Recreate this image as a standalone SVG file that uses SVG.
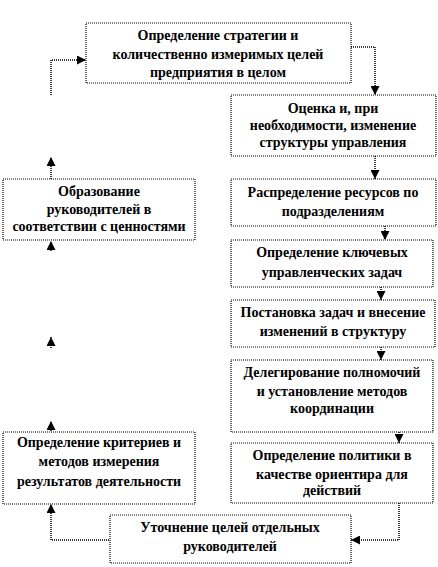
<svg xmlns="http://www.w3.org/2000/svg" width="438" height="567" viewBox="0 0 438 567">
<style>
.box{fill:#fff;stroke:#000;stroke-width:1.2;stroke-dasharray:1 1}
.t{font-family:'Liberation Serif','DejaVu Serif',serif;font-weight:bold;font-size:14px;fill:#000;text-anchor:middle}
.c{fill:none;stroke:#000;stroke-width:1.5;stroke-dasharray:1 1}
</style>
<defs>
<marker id="ah" markerUnits="userSpaceOnUse" markerWidth="10" markerHeight="9" refX="9" refY="4.5" orient="auto">
<path d="M0,0 L9,4.5 L0,9 z" fill="#000"/>
</marker>
</defs>
<rect width="438" height="567" fill="#fff"/>
<g id="connectors">
<path class="c" d="M351,47 H375 V95" marker-end="url(#ah)"/>
<path class="c" d="M375,156 V179" marker-end="url(#ah)"/>
<path class="c" d="M385,226 V240" marker-end="url(#ah)"/>
<path class="c" d="M381,287 V300" marker-end="url(#ah)"/>
<path class="c" d="M381,347 V360" marker-end="url(#ah)"/>
<path class="c" d="M399,432 V443" marker-end="url(#ah)"/>
<path class="c" d="M399,503 V540 H351" marker-end="url(#ah)"/>
<path class="c" d="M111,540 H51 V504" marker-end="url(#ah)"/>
<path class="c" d="M51,431 V421" marker-end="url(#ah)"/>
<path class="c" d="M51,348 V337" marker-end="url(#ah)"/>
<path class="c" d="M51,251 V241" marker-end="url(#ah)"/>
<path class="c" d="M51,179 V157" marker-end="url(#ah)"/>
<path class="c" d="M51,95 V60 H86" marker-end="url(#ah)"/>
</g>
<g id="n1">
<rect class="box" x="86" y="23" width="265" height="60"/>
<text class="t" font-family="Liberation Serif" x="218" y="40">Определение стратегии и</text>
<text class="t" font-family="Liberation Serif" x="218" y="59">количественно измеримых целей</text>
<text class="t" font-family="Liberation Serif" x="218" y="77">предприятия в целом</text>
</g>
<g id="n2">
<rect class="box" x="231" y="95" width="205" height="61"/>
<text class="t" x="333" y="113">Оценка и, при</text>
<text class="t" x="333" y="130">необходимости, изменение</text>
<text class="t" x="333" y="147">структуры управления</text>
</g>
<g id="n3">
<rect class="box" x="231" y="179" width="205" height="47"/>
<text class="t" x="333" y="197">Распределение ресурсов по</text>
<text class="t" x="333" y="216">подразделениям</text>
</g>
<g id="n4">
<rect class="box" x="231" y="240" width="202" height="47"/>
<text class="t" x="332" y="257">Определение ключевых</text>
<text class="t" x="332" y="277">управленческих задач</text>
</g>
<g id="n5">
<rect class="box" x="231" y="300" width="204" height="47"/>
<text class="t" x="333" y="317">Постановка задач и внесение</text>
<text class="t" x="333" y="336">изменений в структуру</text>
</g>
<g id="n6">
<rect class="box" x="231" y="360" width="202" height="72"/>
<text class="t" x="332" y="377">Делегирование полномочий</text>
<text class="t" x="332" y="396">и установление методов</text>
<text class="t" x="332" y="413">координации</text>
</g>
<g id="n7">
<rect class="box" x="231" y="443" width="202" height="60"/>
<text class="t" x="332" y="460">Определение политики  в</text>
<text class="t" x="332" y="479">качестве ориентира для</text>
<text class="t" x="332" y="495">действий</text>
</g>
<g id="n8">
<rect class="box" x="110" y="515" width="241" height="48"/>
<text class="t" x="230" y="532">Уточнение целей отдельных</text>
<text class="t" x="230" y="551">руководителей</text>
</g>
<g id="n9">
<rect class="box" x="3" y="432" width="192" height="72"/>
<text class="t" x="99" y="447">Определение критериев и</text>
<text class="t" x="99" y="466">методов измерения</text>
<text class="t" x="99" y="486">результатов деятельности</text>
</g>
<g id="n10">
<rect class="box" x="3" y="179" width="192" height="61"/>
<text class="t" x="99" y="196">Образование</text>
<text class="t" x="99" y="214">руководителей в</text>
<text class="t" x="99" y="231">соответствии с ценностями</text>
</g>
</svg>
